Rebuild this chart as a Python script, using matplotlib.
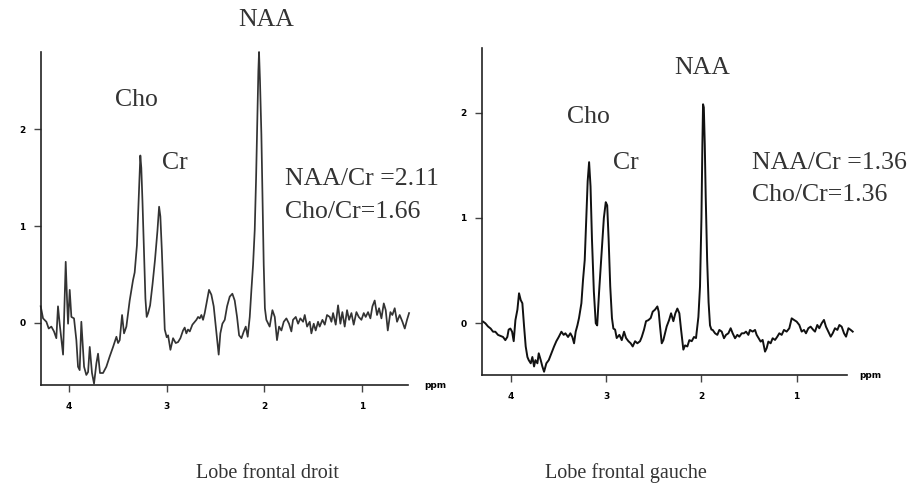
import matplotlib
matplotlib.use("Agg")
import matplotlib.pyplot as plt

# ---------------- data ----------------
# Left spectrum: "Lobe frontal droit"
ppm_droit = [4.29, 4.266, 4.232, 4.208, 4.181, 4.154, 4.13, 4.113, 4.096, 4.061,
             4.034, 4.02, 4.01, 3.993, 3.976, 3.949, 3.925, 3.908, 3.891, 3.874,
             3.846, 3.823, 3.805, 3.788, 3.765, 3.744, 3.72, 3.703, 3.683, 3.652,
             3.618, 3.584, 3.549, 3.515, 3.498, 3.481, 3.457, 3.437, 3.413, 3.379,
             3.345, 3.328, 3.305, 3.29, 3.278, 3.27, 3.26, 3.248, 3.232, 3.218,
             3.205, 3.19, 3.17, 3.145, 3.12, 3.095, 3.078, 3.065, 3.05, 3.035,
             3.02, 3.0, 2.986, 2.962, 2.935, 2.908, 2.884, 2.86, 2.833, 2.816,
             2.799, 2.782, 2.764, 2.737, 2.713, 2.696, 2.679, 2.662, 2.645, 2.628,
             2.611, 2.587, 2.567, 2.543, 2.519, 2.498, 2.481, 2.468, 2.451, 2.43,
             2.406, 2.382, 2.355, 2.328, 2.304, 2.28, 2.259, 2.235, 2.211, 2.191,
             2.171, 2.15, 2.133, 2.116, 2.099, 2.085, 2.075, 2.062, 2.055, 2.045,
             2.031, 2.018, 2.007, 1.995, 1.98, 1.946, 1.918, 1.894, 1.871, 1.85,
             1.826, 1.802, 1.775, 1.748, 1.724, 1.707, 1.679, 1.655, 1.632, 1.604,
             1.587, 1.563, 1.536, 1.519, 1.495, 1.475, 1.451, 1.434, 1.406, 1.382,
             1.359, 1.331, 1.314, 1.297, 1.27, 1.246, 1.222, 1.202, 1.178, 1.154,
             1.133, 1.109, 1.086, 1.058, 1.034, 1.007, 0.983, 0.963, 0.939, 0.915,
             0.894, 0.871, 0.847, 0.826, 0.802, 0.778, 0.758, 0.737, 0.71, 0.69,
             0.666, 0.642, 0.615, 0.587, 0.563, 0.54, 0.519]
int_droit = [0.17, 0.045, 0.01, -0.06, -0.04, -0.09, -0.16, 0.17, -0.01, -0.33,
             0.63, 0.23, -0.01, 0.34, 0.06, 0.045, -0.18, -0.455, -0.49, 0.01,
             -0.455, -0.54, -0.51, -0.25, -0.52, -0.63, -0.42, -0.32, -0.52, -0.52,
             -0.455, -0.35, -0.25, -0.145, -0.21, -0.18, 0.08, -0.11, -0.04, 0.23,
             0.44, 0.52, 0.8, 1.2, 1.55, 1.73, 1.6, 1.25, 0.7, 0.25,
             0.06, 0.1, 0.18, 0.4, 0.65, 0.95, 1.2, 1.1, 0.75, 0.35,
             -0.07, -0.15, -0.13, -0.28, -0.16, -0.21, -0.2, -0.16, -0.08, -0.05,
             -0.11, -0.07, -0.09, -0.02, 0.01, 0.03, 0.06, 0.045, 0.08, 0.03,
             0.1, 0.23, 0.34, 0.29, 0.17, -0.04, -0.21, -0.33, -0.11, -0.01,
             0.03, 0.17, 0.27, 0.3, 0.23, 0.06, -0.13, -0.16, -0.09, -0.04,
             -0.145, 0.06, 0.34, 0.6, 0.96, 1.5, 2.0, 2.6, 2.8, 2.5,
             1.95, 1.2, 0.6, 0.15, 0.03, -0.04, 0.13, 0.06, -0.18, -0.04,
             -0.08, 0.01, 0.045, -0.01, -0.09, 0.03, 0.06, -0.01, 0.045, 0.01,
             0.08, -0.04, 0.01, -0.11, -0.01, -0.08, 0.01, -0.04, 0.03, -0.02,
             0.08, 0.06, 0.01, 0.1, -0.02, 0.18, -0.01, 0.11, -0.04, 0.13,
             0.03, 0.1, -0.02, 0.11, 0.06, 0.03, 0.1, 0.06, 0.11, 0.045,
             0.17, 0.23, 0.08, 0.15, 0.045, 0.2, 0.13, -0.08, 0.11, 0.08,
             0.15, 0.01, 0.08, 0.01, -0.06, 0.03, 0.1]

# Right spectrum: "Lobe frontal gauche"
ppm_gauche = [4.294, 4.27, 4.242, 4.214, 4.189, 4.165, 4.137, 4.109, 4.084, 4.06,
              4.039, 4.025, 4.007, 3.989, 3.972, 3.954, 3.933, 3.916, 3.898, 3.881,
              3.863, 3.846, 3.828, 3.814, 3.793, 3.776, 3.758, 3.744, 3.723, 3.709,
              3.688, 3.671, 3.653, 3.629, 3.604, 3.576, 3.548, 3.524, 3.499, 3.471,
              3.447, 3.429, 3.401, 3.377, 3.356, 3.338, 3.321, 3.303, 3.286, 3.261,
              3.244, 3.226, 3.21, 3.195, 3.18, 3.165, 3.15, 3.13, 3.11, 3.095,
              3.075, 3.05, 3.025, 3.005, 2.99, 2.975, 2.958, 2.94, 2.925, 2.907,
              2.89, 2.862, 2.837, 2.813, 2.792, 2.767, 2.743, 2.722, 2.697, 2.673,
              2.645, 2.627, 2.603, 2.582, 2.557, 2.533, 2.512, 2.487, 2.463, 2.449,
              2.435, 2.417, 2.4, 2.382, 2.365, 2.34, 2.319, 2.295, 2.274, 2.253,
              2.232, 2.214, 2.19, 2.172, 2.148, 2.127, 2.102, 2.078, 2.057, 2.032,
              2.015, 2.0, 1.99, 1.983, 1.975, 1.965, 1.955, 1.94, 1.925, 1.91,
              1.895, 1.882, 1.857, 1.833, 1.812, 1.787, 1.763, 1.742, 1.717, 1.693,
              1.672, 1.647, 1.623, 1.602, 1.577, 1.553, 1.532, 1.507, 1.49, 1.462,
              1.437, 1.42, 1.399, 1.378, 1.357, 1.332, 1.315, 1.297, 1.273, 1.252,
              1.227, 1.203, 1.182, 1.157, 1.133, 1.105, 1.077, 1.052, 1.028, 1.0,
              0.972, 0.947, 0.923, 0.902, 0.877, 0.853, 0.825, 0.807, 0.783, 0.762,
              0.737, 0.713, 0.692, 0.667, 0.642, 0.621, 0.597, 0.572, 0.551, 0.527,
              0.502, 0.481, 0.456, 0.432, 0.411]
int_gauche = [0.016, 0.0, -0.03, -0.05, -0.08, -0.08, -0.11, -0.12, -0.13, -0.16,
              -0.13, -0.06, -0.05, -0.08, -0.17, 0.03, 0.13, 0.285, 0.22, 0.19,
              -0.03, -0.22, -0.32, -0.35, -0.38, -0.32, -0.41, -0.35, -0.38, -0.285,
              -0.35, -0.41, -0.46, -0.38, -0.35, -0.285, -0.22, -0.17, -0.13, -0.08,
              -0.11, -0.095, -0.13, -0.095, -0.13, -0.19, -0.08, -0.02, 0.05, 0.19,
              0.41, 0.6, 1.0, 1.35, 1.53, 1.3, 0.8, 0.3, 0.0, -0.02,
              0.3, 0.65, 1.0, 1.15, 1.12, 0.8, 0.35, 0.05, -0.05, -0.06,
              -0.14, -0.11, -0.16, -0.08, -0.14, -0.17, -0.19, -0.22, -0.17, -0.19,
              -0.17, -0.13, -0.06, 0.02, 0.03, 0.05, 0.11, 0.13, 0.16, 0.11,
              -0.03, -0.19, -0.16, -0.095, -0.03, 0.03, 0.095, 0.02, 0.095, 0.14,
              0.095, -0.06, -0.25, -0.21, -0.22, -0.16, -0.17, -0.13, -0.14, 0.06,
              0.35, 1.0, 1.7, 2.08, 2.05, 1.7, 1.2, 0.6, 0.2, -0.02,
              -0.06, -0.063, -0.095, -0.11, -0.063, -0.079, -0.142, -0.11, -0.095, -0.047,
              -0.095, -0.142, -0.11, -0.127, -0.095, -0.095, -0.079, -0.11, -0.063, -0.079,
              -0.063, -0.11, -0.142, -0.174, -0.158, -0.269, -0.237, -0.174, -0.19, -0.142,
              -0.158, -0.127, -0.095, -0.11, -0.063, -0.079, -0.047, 0.047, 0.032, 0.016,
              -0.016, -0.079, -0.063, -0.095, -0.047, -0.032, -0.063, -0.079, -0.016, -0.047,
              0.0, 0.032, -0.032, -0.079, -0.127, -0.095, -0.047, -0.063, -0.016, -0.032,
              -0.095, -0.127, -0.047, -0.063, -0.079]

x_ticks = [4, 3, 2, 1]
y_ticks = [0, 1, 2]
peak_labels = ["Cho", "Cr", "NAA"]
ratios_droit = ["NAA/Cr =2.11", "Cho/Cr=1.66"]
ratios_gauche = ["NAA/Cr =1.36", "Cho/Cr=1.36"]
captions = ["Lobe frontal droit", "Lobe frontal gauche"]

# ---------------- drawing ----------------
W, H = 910, 483
fig = plt.figure(figsize=(W / 100, H / 100), dpi=100)
fig.patch.set_facecolor("white")

LABEL_FONT = dict(family="Liberation Serif", size=18.5, color="#333333")
TICK_FONT = dict(family="DejaVu Sans", size=6.5, weight="bold")


def px_axes(x0, y0, x1, y1):
    return fig.add_axes([x0 / W, 1 - y1 / H, (x1 - x0) / W, (y1 - y0) / H])


def style(ax, xlim, ylim):
    ax.set_xlim(*xlim)
    ax.set_ylim(*ylim)
    for s in ("top", "right"):
        ax.spines[s].set_visible(False)
    for s in ("left", "bottom"):
        ax.spines[s].set_linewidth(1.2)
        ax.spines[s].set_color("#222222")
    ax.set_xticks(x_ticks)
    ax.set_yticks(y_ticks)
    ax.set_xticklabels([str(t) for t in x_ticks], **TICK_FONT)
    ax.set_yticklabels([str(t) for t in y_ticks], **TICK_FONT)
    ax.tick_params(axis="x", direction="out", length=5, width=1.0, pad=7, color="#444444")
    ax.tick_params(axis="y", direction="out", length=5, width=1.0, pad=6, color="#444444")
    ax.set_facecolor("none")


# Left panel
axL = px_axes(40.7, 52, 408, 385)
axL.plot(ppm_droit, int_droit, color="#333333", lw=1.25, clip_on=False)
style(axL, (4.29, 0.53), (-0.644, 2.80))
axL.text(3.314, 2.30, peak_labels[0], ha="center", va="center", **LABEL_FONT)
axL.text(2.915, 1.65, peak_labels[1], ha="center", va="center", **LABEL_FONT)
axL.text(1.98, 3.13, peak_labels[2], ha="center", va="center", clip_on=False, **LABEL_FONT)
axL.text(1.79, 1.486, ratios_droit[0], ha="left", va="center", clip_on=False, **LABEL_FONT)
axL.text(1.79, 1.145, ratios_droit[1], ha="left", va="center", clip_on=False, **LABEL_FONT)
axL.text(1.073, 0.0, "ppm", transform=axL.transAxes, ha="center", va="center",
         family="DejaVu Sans", size=6.5, weight="bold")

# Right panel
axR = px_axes(482, 48, 847, 375)
axR.plot(ppm_gauche, int_gauche, color="#111111", lw=1.4, clip_on=False)
style(axR, (4.305, 0.471), (-0.491, 2.614))
axR.text(3.19, 1.96, peak_labels[0], ha="center", va="center", **LABEL_FONT)
axR.text(2.79, 1.52, peak_labels[1], ha="center", va="center", **LABEL_FONT)
axR.text(1.994, 2.42, peak_labels[2], ha="center", va="center", **LABEL_FONT)
axR.text(1.47, 1.52, ratios_gauche[0], ha="left", va="center", clip_on=False, **LABEL_FONT)
axR.text(1.47, 1.22, ratios_gauche[1], ha="left", va="center", clip_on=False, **LABEL_FONT)
axR.text(1.063, 0.0, "ppm", transform=axR.transAxes, ha="center", va="center",
         family="DejaVu Sans", size=6.5, weight="bold")

# Captions
fig.text(267 / W, 1 - 473 / H, captions[0], ha="center", va="center",
         family="Liberation Serif", size=14.5, color="#333333")
fig.text(626 / W, 1 - 473 / H, captions[1], ha="center", va="center",
         family="Liberation Serif", size=14.5, color="#333333")

fig.savefig("out.png", dpi=100, facecolor="white")
